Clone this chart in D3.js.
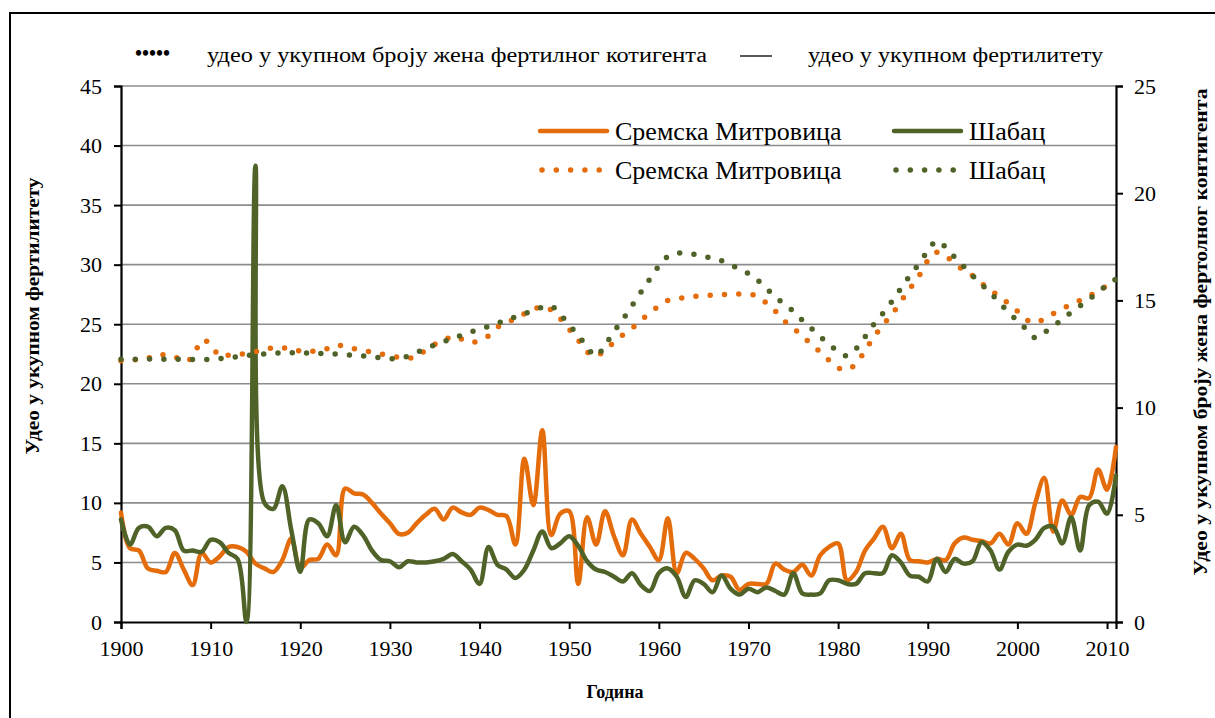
<!DOCTYPE html>
<html><head><meta charset="utf-8">
<script src="https://cdn.jsdelivr.net/npm/d3@7"></script>
<style>
html,body{margin:0;padding:0;background:#fff;}
svg{display:block;}
</style></head>
<body><svg id="c" width="1215" height="718"></svg>
<script>
const years = d3.range(1900, 2012);
// share in total fertility (left axis), solid lines
const sremskaFert = [9.2,6.2,6.0,4.5,4.3,4.2,5.8,4.4,3.1,5.8,5.0,5.5,6.3,6.3,5.9,4.9,4.5,4.2,5.2,7.0,
 4.5,5.2,5.3,6.5,5.6,11.2,10.8,10.7,10.0,9.1,8.3,7.4,7.5,8.3,9.0,9.5,8.6,9.6,9.2,9.0,
 9.6,9.4,9.0,8.9,6.5,13.7,9.8,16.1,7.3,9.1,9.3,3.2,8.8,6.5,9.3,7.2,5.6,8.6,7.4,6.3,
 5.2,8.7,4.1,5.8,5.3,4.5,3.5,3.9,3.8,2.7,3.2,3.2,3.2,4.9,4.4,4.2,4.8,3.9,5.6,6.3,
 6.6,3.5,4.2,6.0,7.0,8.0,6.2,7.4,5.2,5.1,5.0,5.3,5.2,6.6,7.1,6.9,6.8,6.6,7.4,6.5,
 8.3,7.4,10.0,12.1,7.6,10.2,9.0,10.5,10.4,12.8,11.1,14.7];
const sabacFert = [8.6,6.5,7.9,8.0,7.2,7.9,7.7,6.0,6.0,5.9,6.9,6.7,5.8,5.3,0,38.3,10.0,9.5,11.4,7.7,
 4.2,8.6,8.3,7.2,9.8,6.7,8.0,7.3,6.0,5.2,5.1,4.6,5.1,5.0,5.0,5.1,5.3,5.7,5.1,4.4,
 3.2,6.3,4.8,4.4,3.7,4.4,6.0,7.6,6.2,6.6,7.2,6.4,5.1,4.4,4.2,3.8,3.4,4.1,3.1,2.6,
 4.1,4.5,3.8,2.1,3.5,3.2,2.5,3.9,2.8,2.3,2.8,2.5,2.9,2.6,2.3,4.1,2.4,2.3,2.4,3.5,
 3.5,3.2,3.2,4.1,4.1,4.1,5.6,5.0,3.9,3.8,3.4,5.3,4.2,5.3,4.9,5.1,6.7,6.0,4.4,5.9,
 6.5,6.4,6.9,7.9,8.0,6.6,8.8,6.0,9.8,10.1,9.1,12.3];
// share in total number of women of fertile contingent (right axis), dotted lines
const sremskaWomen = [12.19,12.21,12.25,12.3,12.48,12.45,12.37,12.15,12.35,13.15,12.95,12.4,12.44,12.48,12.53,12.6,12.72,12.78,12.8,12.7,
 12.64,12.62,12.66,12.75,12.92,12.84,12.75,12.68,12.58,12.5,12.42,12.35,12.31,12.35,12.7,12.95,13.12,13.33,13.2,13.03,
 13.15,13.35,13.75,14.0,14.12,14.38,14.58,14.71,14.55,14.15,13.65,13.15,12.6,12.4,12.7,13.05,13.4,13.7,14.05,14.45,
 14.72,15.0,15.08,15.14,15.19,15.23,15.25,15.27,15.29,15.3,15.3,15.2,14.88,14.5,14.05,13.7,13.35,12.95,12.6,12.2,
 11.85,11.75,12.05,12.65,13.3,13.85,14.35,14.95,15.55,16.12,16.85,17.25,17.05,16.75,16.4,16.15,15.8,15.45,15.2,14.85,
 14.5,14.1,13.95,14.15,14.38,14.62,14.79,15.0,15.2,15.45,15.68,15.85];
const sabacWomen = [12.25,12.25,12.26,12.27,12.26,12.25,12.25,12.25,12.24,12.24,12.25,12.28,12.32,12.37,12.42,12.47,12.5,12.53,12.55,12.56,
 12.55,12.54,12.53,12.52,12.5,12.47,12.44,12.41,12.37,12.32,12.28,12.3,12.4,12.58,12.75,12.93,13.08,13.23,13.38,13.53,
 13.66,13.78,13.93,14.08,14.23,14.38,14.54,14.68,14.74,14.35,13.85,13.38,12.82,12.4,12.92,13.55,14.12,14.75,15.38,16.0,
 16.6,17.05,17.2,17.2,17.15,17.05,16.98,16.85,16.63,16.5,16.25,15.95,15.55,15.19,14.8,14.5,14.08,13.7,13.3,12.97,
 12.6,12.42,12.75,13.3,13.9,14.4,14.95,15.55,16.15,16.7,17.3,17.78,17.48,17.02,16.59,16.15,15.75,15.35,14.9,14.45,
 14.05,13.65,13.25,13.5,13.8,14.1,14.45,14.75,15.05,15.4,15.7,16.0];
const xTicks = d3.range(1900, 2011, 10);
const leftTicks = d3.range(0, 46, 5);
const rightTicks = d3.range(0, 26, 5);
const seriesNames = ["Сремска Митровица", "Шабац"];
const colors = ["#E46C0A", "#4F6228"];
const FONT = 'Tinos, Liberation Serif, serif';

const svg = d3.select("#c");
svg.append("rect").attr("x",10).attr("y",13).attr("width",1300).attr("height",800)
  .attr("fill","#fff").attr("stroke","#000").attr("stroke-width",2);

const x = d3.scaleLinear().domain([1900, 2011]).range([121, 1116]);
const yL = d3.scaleLinear().domain([0, 45]).range([622, 86]);
const yR = d3.scaleLinear().domain([0, 25]).range([622, 86]);

// gridlines
svg.append("g").selectAll("line").data(leftTicks.filter(d=>d>0)).join("line")
  .attr("x1",121).attr("x2",1116).attr("y1",d=>yL(d)).attr("y2",d=>yL(d))
  .attr("stroke","#8c8c8c").attr("stroke-width",1.6);

// axes
const axL = svg.append("g").attr("transform","translate(121,0)")
  .call(d3.axisLeft(yL).tickValues(leftTicks).tickSize(7).tickPadding(12));
const axR = svg.append("g").attr("transform","translate(1116,0)")
  .call(d3.axisRight(yR).tickValues(rightTicks).tickSize(7).tickPadding(11));
const axB = svg.append("g").attr("transform","translate(0,622)")
  .call(d3.axisBottom(x).tickValues(xTicks).tickFormat(d3.format("d")).tickSize(7).tickPadding(11));
[axL,axR,axB].forEach(a=>{
  a.attr("font-family",FONT).attr("font-size",22);
  a.select(".domain").attr("stroke","#000").attr("stroke-width",2.2);
  a.selectAll(".tick line").attr("stroke","#000").attr("stroke-width",2);
  a.selectAll("text").style("font-family",FONT).style("font-size","22px").attr("fill","#000");
});

// lines
const lineL = d3.line().x((d,i)=>x(years[i])).y(d=>yL(d)).curve(d3.curveCatmullRom.alpha(0.5));
const lineR = d3.line().x((d,i)=>x(years[i])).y(d=>yR(d)).curve(d3.curveCatmullRom.alpha(0.5));
const solid = [sremskaFert, sabacFert];
const dotted = [sremskaWomen, sabacWomen];
solid.forEach((s,k)=>{
  svg.append("path").datum(s).attr("d",lineL).attr("fill","none")
    .attr("stroke",colors[k]).attr("stroke-width",4.5).attr("stroke-linejoin","round").attr("stroke-linecap","round");
});
dotted.forEach((s,k)=>{
  svg.append("path").datum(s).attr("d",lineR).attr("fill","none")
    .attr("stroke",colors[k]).attr("stroke-width",5.5).attr("stroke-linecap","round")
    .attr("stroke-dasharray","0 14.3");
});

// inner legend
const lg = svg.append("g");
[[540,131,0,false],[894,131,1,false],[540,170,0,true],[894,170,1,true]].forEach(([lx,ly,k,dot])=>{
  lg.append("line").attr("x1",lx+(dot?2:0)).attr("x2",lx+67).attr("y1",ly).attr("y2",ly)
    .attr("stroke",colors[k]).attr("stroke-width",dot?5.5:4.5).attr("stroke-linecap","round")
    .attr("stroke-dasharray",dot?"0 14.3":null);
  lg.append("text").attr("x",lx+75).attr("y",ly+9).style("font-family",FONT).style("font-size","26px").text(seriesNames[k]);
});

// top legend
svg.append("text").attr("x",135).attr("y",60).style("font-family",FONT).style("font-size","20px").style("font-weight","bold").text("•••••");
svg.append("text").attr("x",207).attr("y",62).style("font-family",FONT).style("font-size","20px")
  .attr("textLength",500).attr("lengthAdjust","spacingAndGlyphs").text("удео у укупном броју жена фертилног котигента");
svg.append("line").attr("x1",740).attr("x2",772).attr("y1",56).attr("y2",56).attr("stroke","#000").attr("stroke-width",1.3);
svg.append("text").attr("x",808).attr("y",62).style("font-family",FONT).style("font-size","20px")
  .attr("textLength",295).attr("lengthAdjust","spacingAndGlyphs").text("удео у укупном фертилитету");

// axis titles
svg.append("text").attr("x",615).attr("y",698).attr("text-anchor","middle").style("font-family",FONT)
  .style("font-size","18px").style("font-weight","bold").text("Година");
svg.append("text").attr("transform","translate(39,316) rotate(-90)").attr("text-anchor","middle").style("font-family",FONT)
  .style("font-size","18px").style("font-weight","bold")
  .attr("textLength",277).attr("lengthAdjust","spacingAndGlyphs").text("Удео у укупном фертилитету");
svg.append("text").attr("transform","translate(1207,332) rotate(-90)").attr("text-anchor","middle").style("font-family",FONT)
  .style("font-size","18px").style("font-weight","bold")
  .attr("textLength",487).attr("lengthAdjust","spacingAndGlyphs").text("Удео у укупном броју жена фертолног контигента");
</script></body></html>
